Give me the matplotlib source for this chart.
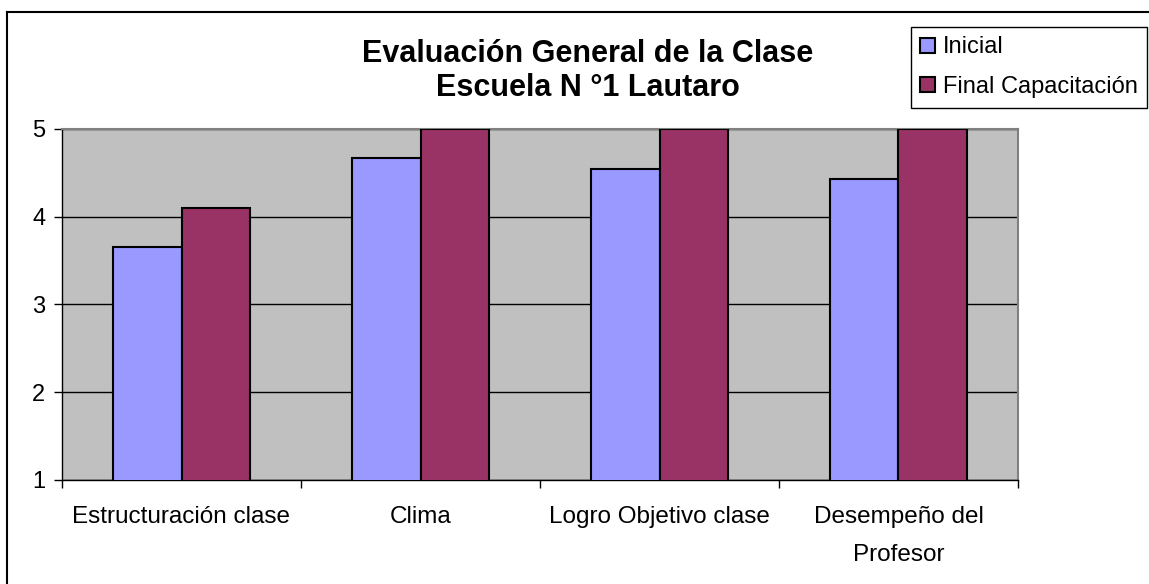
import numpy as np
import matplotlib
matplotlib.use('Agg')
import matplotlib.pyplot as plt
from matplotlib.lines import Line2D

categorias = ['Estructuración clase', 'Clima', 'Logro Objetivo clase', 'Desempeño del\nProfesor']
inicial = [3.65, 4.67, 4.54, 4.43]
final = [4.10, 5.0, 5.0, 5.0]

plt.rcParams['font.family'] = ['Liberation Sans', 'DejaVu Sans']

fig = plt.figure(figsize=(11.49, 5.84), dpi=100)
ax = fig.add_axes([62/1149, 104/584, 956/1149, 351/584])

x = np.arange(len(categorias))
w = 1/3.5
ax.bar(x - w/2, inicial, w, bottom=0, color='#9999FF', edgecolor='black', linewidth=1.5, label='Inicial', zorder=3)
ax.bar(x + w/2, final, w, bottom=0, color='#993366', edgecolor='black', linewidth=1.5, label='Final Capacitación', zorder=3)

ax.set_facecolor('#C0C0C0')
ax.set_xlim(-0.5, len(categorias) - 0.5)
ax.set_ylim(1, 5)
ax.set_yticks([1, 2, 3, 4, 5])
ax.yaxis.grid(True, color='black', linewidth=1, zorder=1)
ax.set_axisbelow(True)

ax.set_xticks(x)
ax.set_xticklabels(categorias, fontsize=17.5, linespacing=1.9)
ax.tick_params(axis='x', length=0, pad=19)
ax.set_xticks(np.arange(len(categorias) + 1) - 0.5, minor=True)
ax.tick_params(axis='x', which='minor', length=6, width=1, color='black', direction='out')
ax.tick_params(axis='y', labelsize=17, length=6, width=1, pad=6, direction='out')

for s in ['top', 'right']:
    ax.spines[s].set_color('#808080')
    ax.spines[s].set_linewidth(1.5)
for s in ['left', 'bottom']:
    ax.spines[s].set_color('black')
    ax.spines[s].set_linewidth(1)

fig.text(588/1149, 1 - 71/584, 'Evaluación General de la Clase\nEscuela N °1 Lautaro',
         ha='center', va='center', fontsize=22, fontweight='bold', linespacing=1.2)

leg = fig.legend(loc='upper left', bbox_to_anchor=(911/1149, 1 - 27/584), fontsize=17,
                 frameon=True, fancybox=False, edgecolor='black', framealpha=1,
                 handlelength=0.6, handleheight=0.6, handletextpad=0.35,
                 borderpad=0.4, labelspacing=0.75, borderaxespad=0)
leg.get_frame().set_linewidth(1)

# outer chart frame
fig.add_artist(Line2D([7/1149, 1], [1 - 12/584, 1 - 12/584], color='black', linewidth=1.5, transform=fig.transFigure))
fig.add_artist(Line2D([7/1149, 7/1149], [0, 1 - 12/584], color='black', linewidth=1.5, transform=fig.transFigure))

fig.savefig('out.png', dpi=100)
